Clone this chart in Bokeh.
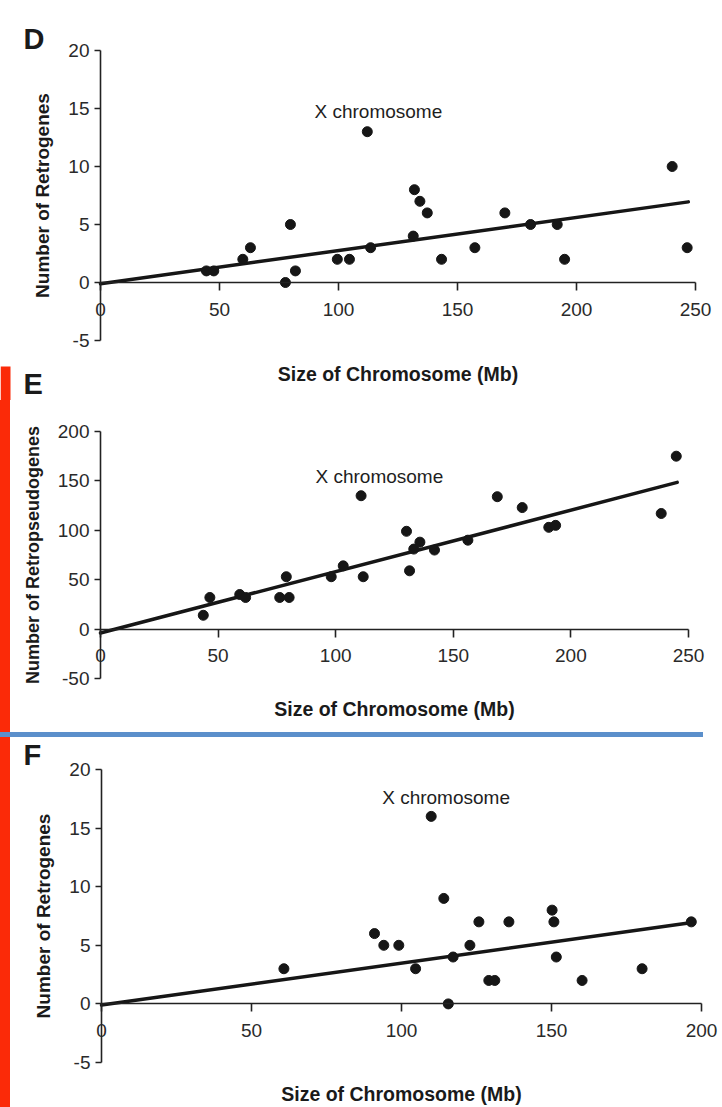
from bokeh.plotting import figure
from bokeh.models import Range1d, Label, Div, BoxAnnotation
from bokeh.layouts import column, row
from bokeh.embed import file_html
from bokeh.resources import INLINE

# ---------------- data ----------------
# Panel D: human retrogenes vs chromosome size
d_size = [44.5, 47.6, 59.8, 63.0, 79.8, 77.7, 81.9, 99.5, 104.6, 112.1, 113.5, 131.9,
          134.2, 137.3, 131.4, 143.3, 157.3, 169.9, 180.7, 191.9, 195.0, 240.2, 246.5]
d_count = [1, 1, 2, 3, 5, 0, 1, 2, 2, 13, 3, 8, 7, 6, 4, 2, 3, 6, 5, 5, 2, 10, 3]
d_fit_x = [0, 247]
d_fit_y = [-0.1, 6.95]
d_xticks = [0, 50, 100, 150, 200, 250]
d_xlabels = ["0", "50", "100", "150", "200", "250"]
d_yticks = [-5, 0, 5, 10, 15, 20]
d_ylabels = ["-5", "0", "5", "10", "15", "20"]

# Panel E: retropseudogenes vs chromosome size
e_size = [43.7, 46.5, 59.2, 61.7, 76.2, 80.2, 79.0, 98.1, 103.2, 111.7, 110.8, 130.1,
          131.4, 133.2, 135.8, 142.0, 156.2, 168.7, 179.3, 190.6, 193.5, 238.4, 244.8]
e_count = [14, 32, 35, 32, 32, 32, 53, 53, 64, 53, 135, 99, 59, 81, 88, 80, 90, 134,
           123, 103, 105, 117, 175]
e_fit_x = [0, 245.2]
e_fit_y = [-4, 148.5]
e_xticks = [0, 50, 100, 150, 200, 250]
e_xlabels = ["0", "50", "100", "150", "200", "250"]
e_yticks = [-50, 0, 50, 100, 150, 200]
e_ylabels = ["-50", "0", "50", "100", "150", "200"]

# Panel F: mouse retrogenes vs chromosome size
f_size = [60.8, 91.0, 94.1, 99.1, 104.7, 109.9, 114.1, 117.2, 115.6, 122.8, 125.8,
          129.1, 131.1, 135.8, 150.2, 150.8, 151.6, 160.2, 180.2, 196.6]
f_count = [3, 6, 5, 5, 3, 16, 9, 4, 0, 5, 7, 2, 2, 7, 8, 7, 4, 2, 3, 7]
f_fit_x = [0, 196.9]
f_fit_y = [-0.1, 6.95]
f_xticks = [0, 50, 100, 150, 200]
f_xlabels = ["0", "50", "100", "150", "200"]
f_yticks = [-5, 0, 5, 10, 15, 20]
f_ylabels = ["-5", "0", "5", "10", "15", "20"]

x_title = "Size of Chromosome (Mb)"
FONT = "Liberation Sans"
INK = "#161616"
RED = "#fb2a08"


def ranges(W, H, xa, ya):
    """Ranges so that the whole canvas is the frame.
    xa = (v0, px0, v1, px1); ya = (vtop, pytop, vbot, pybot) in canvas pixels."""
    v0, p0, v1, p1 = xa
    bx = (p1 - p0) / (v1 - v0)
    xr = (v0 - p0 / bx, v0 + (W - p0) / bx)
    vt, pt, vb, pb = ya
    by = (pb - pt) / (vt - vb)
    yr = (vb - (H - pb) / by, vt + pt / by)
    return xr, yr


def panel(W, H, xa, ya, xticks, xlabels, yticks, ylabels, xs, ys, fx, fy,
          ytitle, ytitle_size, x_standoff, y_standoff, note_px, letters):
    xr, yr = ranges(W, H, xa, ya)
    p = figure(width=W, height=H, output_backend="svg", toolbar_location=None,
               x_range=Range1d(*xr), y_range=Range1d(*yr),
               min_border_left=0, min_border_right=0,
               min_border_top=0, min_border_bottom=0)
    p.outline_line_color = None
    p.grid.visible = False
    p.background_fill_color = "white"
    p.border_fill_color = "white"

    p.line(fx, fy, line_width=3.5, color=INK, line_cap="round")
    p.scatter(xs, ys, size=10, color=INK)

    xaxis = p.xaxis[0]
    xaxis.fixed_location = 0
    xaxis.bounds = (xticks[0], xticks[-1])
    xaxis.ticker = xticks
    xaxis.major_label_overrides = {t: s for t, s in zip(xticks, xlabels)}
    yaxis = p.yaxis[0]
    yaxis.fixed_location = 0
    yaxis.bounds = (yticks[0], yticks[-1])
    yaxis.ticker = yticks
    yaxis.major_label_overrides = {t: s for t, s in zip(yticks, ylabels)}
    for ax in (xaxis, yaxis):
        ax.axis_line_width = 1.6
        ax.axis_line_color = "#222222"
        ax.major_tick_line_color = "#222222"
        ax.major_tick_line_width = 1.6
        ax.major_tick_in = 0
        ax.minor_tick_line_color = None
        ax.major_label_text_font = FONT
        ax.major_label_text_font_size = "19px"
        ax.major_label_text_color = "#2a2a2a"
        ax.axis_label_text_font = FONT
        ax.axis_label_text_font_style = "bold"
        ax.axis_label_text_color = "#1a1a1a"
    xaxis.major_tick_out = 8
    xaxis.major_label_standoff = 12
    xaxis.axis_label = x_title
    xaxis.axis_label_text_font_size = "19.5px"
    xaxis.axis_label_standoff = x_standoff
    yaxis.major_tick_out = 6
    yaxis.major_label_standoff = 5
    yaxis.axis_label = ytitle
    yaxis.axis_label_text_font_size = ytitle_size
    yaxis.axis_label_standoff = y_standoff

    p.add_layout(Label(x=note_px[0], y=H - note_px[1], x_units="screen",
                       y_units="screen", text="X chromosome",
                       text_font=FONT, text_font_size="19px",
                       text_color="#1e1e1e", text_baseline="middle"))
    for txt, lx, ly in letters:
        p.add_layout(Label(x=lx, y=H - ly, x_units="screen", y_units="screen",
                           text=txt, text_font=FONT, text_font_size="29px",
                           text_font_style="bold", text_color="#1a1a1a",
                           text_baseline="middle"))
    return p


# canvas-pixel geometry of each panel's axes (layout, not data)
pD = panel(722, 400, (0, 100, 250, 695), (20, 50, -5, 340),
           d_xticks, d_xlabels, d_yticks, d_ylabels, d_size, d_count,
           d_fit_x, d_fit_y, "Number of Retrogenes", "19px", 44, 12,
           (314, 110.5), [("D", 23, 38), ("E", 23, 383.5)])
# start of the red page edge strip, below panel D's axis title
pD.add_layout(BoxAnnotation(left=0, right=10, bottom=0, top=34,
                            left_units="screen", right_units="screen",
                            bottom_units="screen", top_units="screen",
                            fill_color=RED, fill_alpha=1.0, line_color=None))

pE = panel(712, 332, (0, 90, 250, 678), (200, 31, -50, 278),
           e_xticks, e_xlabels, e_yticks, e_ylabels, e_size, e_count,
           e_fit_x, e_fit_y, "Number of Retropseudogenes", "18px", 32, 12,
           (305, 76), [])

pF = panel(712, 370, (0, 91, 200, 691), (20, 32, -5, 325),
           f_xticks, f_xlabels, f_yticks, f_ylabels, f_size, f_count,
           f_fit_x, f_fit_y, "Number of Retrogenes", "19px", 43, 12,
           (371.7, 59.5), [("F", 13, 17)])

redE = Div(text="", width=10, height=332, margin=(0, 0, 0, 0),
           styles={"background-color": RED})
redF = Div(text="", width=10, height=370, margin=(0, 0, 0, 0),
           styles={"background-color": RED})
blue = Div(text="", width=703, height=5, margin=(0, 0, 0, 0),
           styles={"background-color": "#5b8fcb"})

layout = column(pD, row(redE, pE, spacing=0), blue, row(redF, pF, spacing=0),
                spacing=0)

open("out.html", "w").write(file_html(layout, INLINE))
